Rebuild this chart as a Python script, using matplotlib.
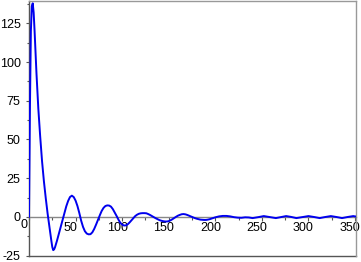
import matplotlib
matplotlib.use("Agg")
import matplotlib.pyplot as plt
from matplotlib.ticker import MultipleLocator
import matplotlib.transforms as mtransforms

plt.rcParams['font.family'] = ['Liberation Sans', 'DejaVu Sans']

x_vals = [0, 1, 2, 3, 4, 5, 6, 7, 8, 9, 10, 12, 14, 16, 18, 20, 22, 24, 25, 26, 27, 28,
          30, 32, 34, 36, 38, 40, 42, 44, 46, 48, 50, 52, 54, 56, 58, 60, 62, 64, 66, 68,
          70, 72, 74, 76, 78, 80, 82, 84, 86, 88, 90, 92, 94, 96, 98, 100, 102, 104, 106,
          108, 110, 112, 114, 116, 118, 120, 122, 124, 126, 128, 130, 132, 134, 136, 138,
          140, 142, 144, 146, 148, 150, 152, 154, 156, 158, 160, 162, 164, 166, 168, 170,
          172, 174, 176, 178, 180, 182, 184, 186, 188, 190, 192, 194, 196, 198, 200, 204,
          208, 212, 216, 220, 224, 228, 232, 236, 240, 246, 252, 258, 265, 270, 276, 281,
          287, 294, 300, 306, 312, 318, 324, 330, 336, 342, 348, 351]
y_vals = [0, 70, 120, 136, 138, 132, 120, 106, 93, 81, 70, 52, 36, 23, 12, 2, -7, -15.5, -19.5, -21.5, -21, -19.5,
          -15.5, -11, -6.5, -2, 2.5, 6.8, 10.3, 12.8, 13.7, 12.8, 10.5, 7, 2.5, -2.5, -6.5, -9.3, -10.8, -11.3, -11.2, -10,
          -7.8, -5, -2, 1, 3.8, 5.8, 7, 7.4, 7.3, 6.6, 5, 2.8, 0.6, -1.8, -3.8, -5, -5.6, -5.5, -4.8,
          -3.6, -2.2, -0.8, 0.5, 1.4, 2, 2.3, 2.4, 2.4, 2.3, 1.8, 1.2, 0.5, -0.2, -0.9, -1.5,
          -2.1, -2.5, -2.8, -3, -3, -2.8, -2.2, -1.5, -0.7, 0.1, 0.8, 1.3, 1.7, 1.8, 1.6, 1.2,
          0.7, 0.2, -0.3, -0.8, -1.2, -1.5, -1.8, -1.9, -2, -2, -1.8, -1.5, -1.1, -0.7, -0.3, 0.3,
          0.6, 0.6, 0.3, -0.2, -0.5, -0.6, -0.3, -0.4, -0.8, -0.2, 0.5, -0.1, -0.8, -0.2, 0.5, 0,
          -0.8, -0.1, 0.5, -0.1, -0.8, -0.1, 0.5, -0.1, -0.8, -0.1, 0.5, 0.2]

x_ticks = [50, 100, 150, 200, 250, 300, 350]
x_tick_labels = ['50', '100', '150', '200', '250', '300', '350']
y_ticks = [-25, 0, 25, 50, 75, 100, 125]
y_tick_labels = ['-25', '0', '25', '50', '75', '100', '125']

fig = plt.figure(figsize=(3.61, 2.62), dpi=100)
ax = fig.add_axes([29 / 361, 6 / 262, 327 / 361, 255 / 262])

ax.plot(x_vals, y_vals, color='#0000ee', lw=1.4, zorder=3)

ax.set_xlim(0, 351)
ax.set_ylim(-25.3, 139.5)

# x axis at y = 0
ax.spines['bottom'].set_position(('data', 0))
ax.spines['bottom'].set_color('#888888')
ax.spines['bottom'].set_linewidth(1.0)
ax.spines['left'].set_color('#555555')
ax.spines['left'].set_linewidth(1.0)
for s in ('top', 'right'):
    ax.spines[s].set_color('#999999')
    ax.spines[s].set_linewidth(1.0)
# bottom frame line
ax.plot([0, 1], [0, 0], transform=ax.transAxes, color='#555555', lw=1.0, clip_on=False)

ax.set_xticks(x_ticks)
ax.set_xticklabels(x_tick_labels)
ax.xaxis.set_minor_locator(MultipleLocator(25))
ax.set_yticks(y_ticks)
ax.set_yticklabels(y_tick_labels)
ax.yaxis.set_minor_locator(MultipleLocator(12.5))

ax.tick_params(axis='x', which='major', direction='out', length=3, width=0.8,
               color='#555555', labelsize=9, pad=1)
ax.tick_params(axis='x', which='minor', direction='out', length=2, width=0.8, color='#555555')
ax.tick_params(axis='y', which='major', direction='out', length=2, width=0.8,
               color='#555555', labelsize=9, pad=4)
ax.tick_params(axis='y', which='minor', direction='out', length=1.5, width=0.8, color='#555555')

offset = mtransforms.ScaledTranslation(-5 / 100, 0, fig.dpi_scale_trans)
for lbl in ax.get_xticklabels():
    lbl.set_transform(lbl.get_transform() + offset)

ax.text(-1.5, -1.5, '0', transform=ax.transData, ha='right', va='top', fontsize=9,
        clip_on=False)

fig.savefig('out.png', dpi=100)
